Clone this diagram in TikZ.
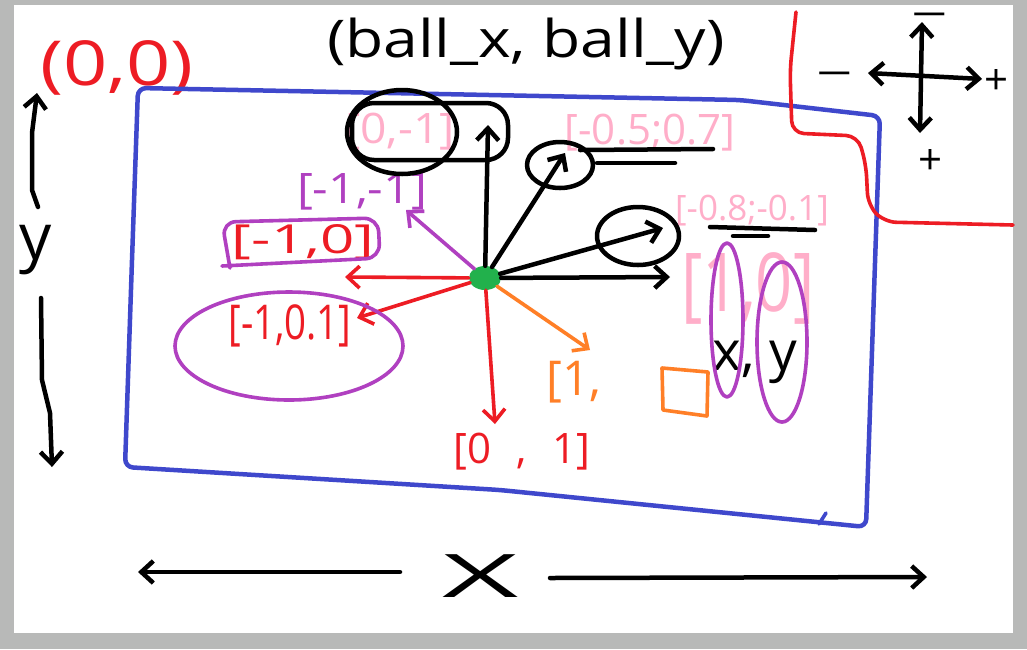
\documentclass[tikz,border=0pt]{standalone}
\usepackage{fontspec}
\setmainfont{Open Sans}
\usetikzlibrary{arrows.meta,shapes.geometric}
\definecolor{pred}{HTML}{ED1C24}
\definecolor{pblue}{HTML}{3F48CC}
\definecolor{ppink}{HTML}{FFAEC9}
\definecolor{ppurple}{HTML}{B040C0}
\definecolor{porange}{HTML}{FF7F27}
\definecolor{pgreen}{HTML}{22B14C}
\definecolor{pgrey}{HTML}{B8B9B8}
\newcommand{\hwtext}[3]{\scalebox{#1}[1]{\fontsize{#2}{#2}\selectfont #3}}
\begin{document}
\begin{tikzpicture}[x=1pt,y=-1pt,
  ink/.style={line width=4.5pt,line cap=round,line join=round},
  thin ink/.style={line width=3.6pt,line cap=round,line join=round},
  head/.style={-{Straight Barb[length=12pt,width=22pt]}},
  bothheads/.style={{Straight Barb[length=12pt,width=22pt]}-{Straight Barb[length=12pt,width=22pt]}},
  lbl/.style={inner sep=0pt,anchor=center}]
\useasboundingbox (0,0) rectangle (1027,649);
\fill[pgrey] (0,0) rectangle (1027,649);
\fill[white] (14,5) rectangle (1013,633);

% titles
\node[lbl,text=pred] (origin) at (117,68) {\hwtext{1.25}{62}{(0,0)}};
\node[lbl] (title) at (526,44) {\hwtext{1.2}{52}{(ball\_x, ball\_y)}};

% blue frame
\draw[ink,pblue,rounded corners=8] (138,88) -- (740,100) -- (880,116) -- (866,527) -- (500,490) -- (125,467) -- (132,260) -- cycle;
\draw[thin ink,pblue] (819,524) -- (826,513);

% red boundary line top right
\draw[thin ink,pred,rounded corners=12] (796,12) -- (790,70) -- (792,133) -- (858,136) -- (866,165) -- (868,205) -- (884,222) -- (1013,225);

% axis symbol top right
\coordinate (axT) at (922,22);
\coordinate (axB) at (920,133);
\coordinate (axL) at (868,73);
\coordinate (axR) at (982,79);
\draw[ink,bothheads] (axB) -- (axT);
\draw[ink,bothheads] (axL) -- (axR);
\node[lbl] (mL) at (835,80) {\hwtext{1.6}{40}{−}};
\node[lbl] (pR) at (996,82) {\hwtext{1}{42}{+}};
\node[lbl] (pB) at (930,162) {\hwtext{1}{42}{+}};
\node[lbl] (mT) at (930,21) {\hwtext{1.6}{40}{−}};

% left y axis
\coordinate (yT) at (37,93);
\coordinate (yA) at (38,207);
\coordinate (yB) at (41,298);
\coordinate (yC) at (52,467);
\node[lbl] (ylab) at (36,250) {\hwtext{1}{64}{y}};
\draw[ink,head] (yA) -- (32,190) -- (32,133) -- (yT);
\draw[ink,head] (yB) -- (42,380) -- (50,413) -- (yC);

% bottom x axis
\node[lbl] (xlab) at (481,576) {\hwtext{2.2}{60}{X}};
\coordinate (xL) at (138,572);
\coordinate (xLs) at (400,572);
\coordinate (xRs) at (550,578);
\coordinate (xR) at (927,577);
\draw[ink,head] (xLs) -- (xL);
\draw[ink,head] (xRs) -- (xR);

% ball
\node[ellipse,fill=pgreen,minimum width=32pt,minimum height=24pt,inner sep=0pt] (ball) at (485,278) {};

% targets
\coordinate (tUp) at (488,125);
\coordinate (tUR) at (565,153);
\coordinate (tR1) at (663,228);
\coordinate (tR2) at (670,277);
\coordinate (tL) at (345,277);
\coordinate (tL2) at (357,318);
\coordinate (tUL) at (406,210);
\coordinate (tDR) at (590,350);
\coordinate (tD) at (495,424);

% labels
\node[lbl,text=ppink] (l01) at (400,132) {\hwtext{1.1}{42}{[0,-1]}};
\node[lbl,text=ppink] (l57) at (650,133) {\hwtext{1}{42}{[-0.5;0.7]}};
\node[lbl,text=ppink] (l81) at (752,211) {\hwtext{1}{35}{[-0.8;-0.1]}};
\node[lbl,text=ppink] (l10) at (748,288) {\scalebox{1}[1.25]{\fontsize{65}{65}\selectfont [1,0]}};
\node[lbl,text=ppurple] (lm11) at (362,192) {\hwtext{1.15}{42}{[-1,-1]}};
\node[lbl,text=pred] (lm10) at (303,242) {\hwtext{1.5}{40}{[-1,0]}};
\node[lbl,text=pred] (lm101) at (290,326) {\hwtext{0.8}{48}{[-1,0.1]}};
\node[lbl,text=porange] (l1o) at (574,382) {\hwtext{1}{48}{[1,}};
\node[lbl,text=pred] (l01d) at (522,452) {\hwtext{1}{42}{[0\hspace{0.6em},\hspace{0.6em}1]}};
\node[lbl] (xy) at (755,362) {\hwtext{1}{55}{x, y}};

% arrows from the ball
\draw[ink,head] (ball) -- (tUp);
\draw[ink,head] (ball) -- (tUR);
\draw[ink,head] (ball) -- (tR1);
\draw[ink,head] (ball) -- (tR2);
\draw[thin ink,head,pred] (ball) -- (tL);
\draw[thin ink,head,pred] (ball) -- (tL2);
\draw[thin ink,head,ppurple] (ball) -- (tUL);
\draw[thin ink,head,porange] (ball) -- (tDR);
\draw[thin ink,head,pred] (ball) -- (tD);

% black loops and underlines
\draw[ink] (402,132) ellipse [x radius=55, y radius=42];
\draw[ink,rounded corners=22] (352,103) rectangle (508,160);
\draw[ink] (560,165) ellipse [x radius=33, y radius=23];
\draw[ink] (638,236) ellipse [x radius=41, y radius=29];
\draw[ink] (580,150) -- (713,149);
\draw[ink] (597,163) -- (675,163);
\draw[ink] (710,227) -- (815,230);
\draw[ink] (733,236) -- (768,236);

% purple loops
\draw[thin ink,ppurple,rounded corners=14] (230,268) -- (222,222) -- (378,218) -- (380,258) -- (222,266);
\draw[thin ink,ppurple] (289,346) ellipse [x radius=114, y radius=54];
\draw[thin ink,ppurple] (727,320) ellipse [x radius=16, y radius=77];
\draw[thin ink,ppurple] (782,342) ellipse [x radius=25, y radius=80];

% orange box
\draw[thin ink,porange] (662,368) -- (708,372) -- (707,416) -- (663,410) -- cycle;
\end{tikzpicture}
\end{document}
